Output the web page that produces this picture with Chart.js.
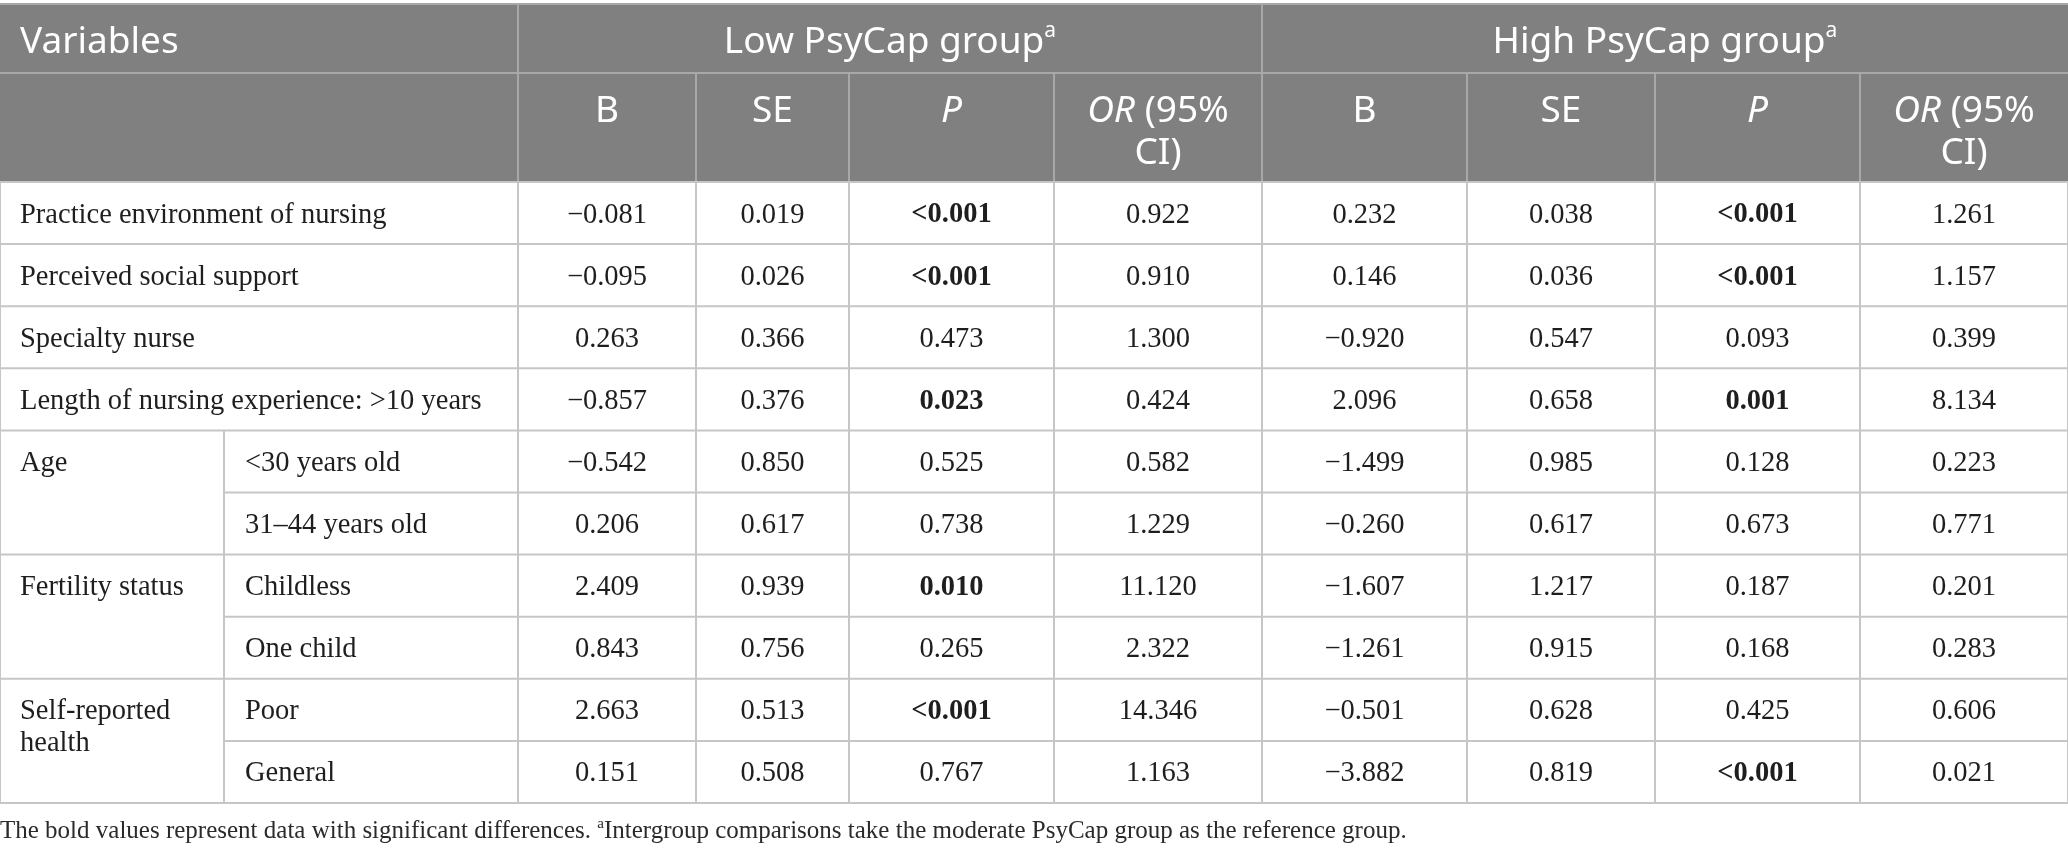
<!DOCTYPE html>
<html>
<head>
<meta charset="utf-8">
<script src="https://cdn.jsdelivr.net/npm/chart.js@4.4.1/dist/chart.umd.min.js"></script>
<style>
  html, body { margin: 0; padding: 0; background: #fff; }
  #wrap { width: 2068px; height: 855px; position: relative; }
</style>
</head>
<body>
<div id="wrap"><canvas id="tabela"></canvas></div>
<script>
// row labels
const variables = ['Practice environment of nursing', 'Perceived social support', 'Specialty nurse',
  'Length of nursing experience: >10 years', 'Age', 'Age', 'Fertility status', 'Fertility status',
  'Self-reported health', 'Self-reported health'];
const subLevels = ['', '', '', '', '<30 years old', '31\u201344 years old', 'Childless', 'One child', 'Poor', 'General'];

// low PsyCap group
const lowB  = [-0.081, -0.095, 0.263, -0.857, -0.542, 0.206, 2.409, 0.843, 2.663, 0.151];
const lowSE = [0.019, 0.026, 0.366, 0.376, 0.850, 0.617, 0.939, 0.756, 0.513, 0.508];
const lowP  = ['<0.001', '<0.001', '0.473', '0.023', '0.525', '0.738', '0.010', '0.265', '<0.001', '0.767'];
const lowOR = [0.922, 0.910, 1.300, 0.424, 0.582, 1.229, 11.120, 2.322, 14.346, 1.163];

// high PsyCap group
const highB  = [0.232, 0.146, -0.920, 2.096, -1.499, -0.260, -1.607, -1.261, -0.501, -3.882];
const highSE = [0.038, 0.036, 0.547, 0.658, 0.985, 0.617, 1.217, 0.915, 0.628, 0.819];
const highP  = ['<0.001', '<0.001', '0.093', '0.001', '0.128', '0.673', '0.187', '0.168', '0.425', '<0.001'];
const highOR = [1.261, 1.157, 0.399, 8.134, 0.223, 0.771, 0.201, 0.283, 0.606, 0.021];

const groupNames = ['Low PsyCap group', 'High PsyCap group'];
const footnote = 'The bold values represent data with significant differences. ';
const footnote2 = 'Intergroup comparisons take the moderate PsyCap group as the reference group.';

// layout (x scale units), not data
const colEdges = [0, 224, 518, 696, 849, 1054, 1262, 1467, 1655, 1860, 2068];
const headTop = 4, headMid = 73;

const SANS = '"Noto Sans", "Open Sans", sans-serif';
const SERIF = '"Liberation Serif", "DejaVu Serif", serif';

function fmt(v) {
  const s = Math.abs(v).toFixed(3);
  return v < 0 ? '\u2212' + s : s;
}
function isSig(p) {
  return p.charAt(0) === '<' || parseFloat(p) < 0.05;
}

// runs: [{t, font, sup}]
function runsWidth(ctx, runs) {
  let w = 0;
  runs.forEach(function(r) { ctx.font = r.font; w += ctx.measureText(r.t).width; });
  return w;
}
function drawRuns(ctx, runs, x, y, align) {
  let w = runsWidth(ctx, runs);
  let cx = align === 'center' ? x - w / 2 : x;
  ctx.textAlign = 'left';
  ctx.textBaseline = 'middle';
  runs.forEach(function(r) {
    ctx.font = r.font;
    ctx.fillText(r.t, cx, r.sup ? y - r.sup : y);
    cx += ctx.measureText(r.t).width;
  });
}

const rowKeys = variables.map(function(v, i) { return subLevels[i] ? v + ': ' + subLevels[i] : v; });
const colunas = [lowB.map(fmt), lowSE.map(fmt), lowP, lowOR.map(fmt), highB.map(fmt), highSE.map(fmt), highP, highOR.map(fmt)];
const colunasP = [2, 6];

const tablePlugin = {
  id: 'tablePlugin',
  beforeDraw: function(chart) {
    const ctx = chart.ctx;
    ctx.save();
    ctx.fillStyle = '#ffffff';
    ctx.fillRect(0, 0, chart.width, chart.height);
    ctx.restore();
  },
  afterDraw: function(chart) {
    const ctx = chart.ctx;
    const x = chart.scales.x, y = chart.scales.y;
    const X = colEdges.map(function(e) { return x.getPixelForValue(e); });
    const n = rowKeys.length;
    const band = y.getPixelForValue(1) - y.getPixelForValue(0);
    const top = y.getPixelForValue(0) - band / 2;
    const bottom = y.getPixelForValue(n - 1) + band / 2;
    const rowEdge = function(i) { return top + i * band; };

    // group spans in first column
    const span = [];
    for (let i = 0; i < n; i++) {
      if (subLevels[i]) {
        if (i > 0 && subLevels[i - 1] && variables[i - 1] === variables[i]) span[i] = span[i - 1];
        else span[i] = i;
      } else span[i] = -1;
    }

    ctx.save();
    // header background
    ctx.fillStyle = '#808080';
    ctx.fillRect(X[0], headTop, X[10] - X[0], top - headTop);

    // header lines
    ctx.strokeStyle = '#a8a8a8';
    ctx.lineWidth = 2;
    ctx.beginPath();
    ctx.moveTo(X[0], headTop); ctx.lineTo(X[10], headTop);
    ctx.moveTo(X[0], headMid); ctx.lineTo(X[10], headMid);
    [2, 6].forEach(function(k) { ctx.moveTo(X[k], headTop); ctx.lineTo(X[k], headMid); });
    for (let k = 2; k < 10; k++) { ctx.moveTo(X[k], headMid); ctx.lineTo(X[k], top); }
    ctx.stroke();

    // body lines
    ctx.strokeStyle = '#c6c6c6';
    ctx.lineWidth = 2;
    ctx.beginPath();
    for (let i = 0; i <= n; i++) {
      const yy = rowEdge(i);
      const inside = i > 0 && i < n && span[i] >= 0 && span[i] === span[i - 1];
      ctx.moveTo(inside ? X[1] : X[0], yy); ctx.lineTo(X[10], yy);
    }
    [0, 2, 3, 4, 5, 6, 7, 8, 9, 10].forEach(function(k) {
      ctx.moveTo(X[k], top); ctx.lineTo(X[k], bottom);
    });
    for (let i = 0; i < n; i++) {
      if (span[i] >= 0) { ctx.moveTo(X[1], rowEdge(i)); ctx.lineTo(X[1], rowEdge(i + 1)); }
    }
    ctx.stroke();

    // header text
    ctx.fillStyle = '#ffffff';
    const hf = '37px ' + SANS, hi = 'italic 37px ' + SANS, hs = '21px ' + SANS;
    const y1 = (headTop + headMid) / 2 + 4;
    drawRuns(ctx, [{ t: 'Variables', font: hf }], X[0] + 20, y1, 'left');
    drawRuns(ctx, [{ t: groupNames[0], font: hf }, { t: 'a', font: hs, sup: 11 }], (X[2] + X[6]) / 2, y1, 'center');
    drawRuns(ctx, [{ t: groupNames[1], font: hf }, { t: 'a', font: hs, sup: 11 }], (X[6] + X[10]) / 2, y1, 'center');
    const y2 = headMid + 38, y3 = headMid + 80;
    for (let g = 0; g < 2; g++) {
      const b = 2 + g * 4;
      drawRuns(ctx, [{ t: 'B', font: hf }], (X[b] + X[b + 1]) / 2, y2, 'center');
      drawRuns(ctx, [{ t: 'SE', font: hf }], (X[b + 1] + X[b + 2]) / 2, y2, 'center');
      drawRuns(ctx, [{ t: 'P', font: hi }], (X[b + 2] + X[b + 3]) / 2, y2, 'center');
      drawRuns(ctx, [{ t: 'OR', font: hi }, { t: ' (95%', font: hf }], (X[b + 3] + X[b + 4]) / 2, y2, 'center');
      drawRuns(ctx, [{ t: 'CI)', font: hf }], (X[b + 3] + X[b + 4]) / 2, y3, 'center');
    }

    // body text
    ctx.fillStyle = '#1e1e1e';
    const bf = '28.5px ' + SERIF, bb = 'bold 28.5px ' + SERIF;
    for (let i = 0; i < n; i++) {
      const cy = y.getPixelForValue(i) + 2;
      if (span[i] < 0) {
        drawRuns(ctx, [{ t: variables[i], font: bf }], X[0] + 20, cy, 'left');
      } else {
        if (span[i] === i) {
          // wrap group label in first sub-column
          ctx.font = bf;
          const words = variables[i].split(' ');
          const lines = [];
          let line = '';
          words.forEach(function(w) {
            const test = line ? line + ' ' + w : w;
            if (ctx.measureText(test).width > X[1] - X[0] - 30 && line) { lines.push(line); line = w; }
            else line = test;
          });
          lines.push(line);
          lines.forEach(function(l, k) {
            drawRuns(ctx, [{ t: l, font: bf }], X[0] + 20, cy + k * 32, 'left');
          });
        }
        drawRuns(ctx, [{ t: subLevels[i], font: bf }], X[1] + 21, cy, 'left');
      }
      colunas.forEach(function(col, c) {
        const isP = colunasP.indexOf(c) >= 0;
        const f = isP && isSig(col[i]) ? bb : bf;
        drawRuns(ctx, [{ t: col[i], font: f }], (X[c + 2] + X[c + 3]) / 2, cy, 'center');
      });
    }

    // footnote
    ctx.fillStyle = '#2a2a2a';
    const ff = '25px ' + SERIF, fs = '15px ' + SERIF;
    drawRuns(ctx, [{ t: footnote, font: ff }, { t: 'a', font: fs, sup: 7 }, { t: footnote2, font: ff }], X[0], 831, 'left');
    ctx.restore();
  }
};

const ctxTabela = document.getElementById('tabela').getContext('2d');
const tabela = new Chart(ctxTabela, {
  type: 'bar',
  data: {
    labels: rowKeys,
    datasets: [{ data: [], backgroundColor: 'rgba(0,0,0,0)' }]
  },
  options: {
    indexAxis: 'y',
    responsive: true,
    maintainAspectRatio: false,
    animation: false,
    layout: { padding: { top: 182, bottom: 52, left: 0, right: 0 } },
    plugins: { legend: { display: false }, tooltip: { enabled: false } },
    scales: {
      x: { type: 'linear', min: 0, max: 2068, display: false },
      y: { type: 'category', display: false, offset: true }
    }
  },
  plugins: [tablePlugin]
});
</script>
</body>
</html>
